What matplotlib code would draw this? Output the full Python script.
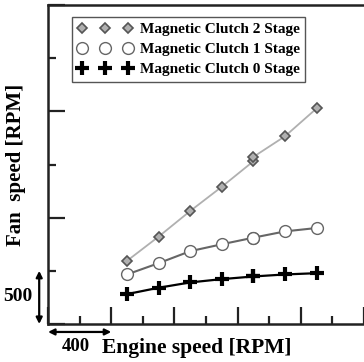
import matplotlib
matplotlib.use("Agg")
import matplotlib.pyplot as plt
from matplotlib.ticker import MultipleLocator

# engine speed [RPM] (axis has no tick labels, scale given by the 400 / 500 arrows)
engine_speed = [500, 700, 900, 1100, 1300, 1300, 1500, 1700]

# fan speed [RPM] for each magnetic clutch stage
fan_stage2 = [594, 822, 1063, 1291, 1531, 1572, 1766, 2028]
fan_stage1 = [466, 572, 685, 750, 812, 812, 871, 903]
fan_stage0 = [281, 341, 391, 422, 447, 447, 466, 478]

labels = ["Magnetic Clutch 2 Stage", "Magnetic Clutch 1 Stage", "Magnetic Clutch 0 Stage"]

plt.rcParams['font.family'] = ['Liberation Serif', 'DejaVu Serif']
plt.rcParams['font.weight'] = 'bold'

fig = plt.figure(figsize=(3.64, 3.62), dpi=100)
ax = fig.add_axes([0.132, 0.105, 0.868, 0.881])

ax.plot(engine_speed, fan_stage2, color='#b0b0b0', lw=1.3, marker='D', ms=5.5,
        mfc='#b0b0b0', mec='#555555', mew=1.2, label=labels[0])
ax.plot(engine_speed, fan_stage1, color='#666666', lw=1.5, marker='o', ms=8.5,
        mfc='white', mec='#666666', mew=1.0, label=labels[1])
ax.plot(engine_speed, fan_stage0, color='black', lw=1.6, marker='+', ms=10,
        mec='black', mew=3.0, label=labels[2])

ax.set_xlim(0, 2000)
ax.set_ylim(0, 3000)
ax.xaxis.set_major_locator(MultipleLocator(400))
ax.xaxis.set_minor_locator(MultipleLocator(200))
ax.yaxis.set_major_locator(MultipleLocator(1000))
ax.yaxis.set_minor_locator(MultipleLocator(500))
ax.tick_params(which='both', direction='in', labelbottom=False, labelleft=False,
               top=False, right=False, width=1.6, color='#222222')
ax.tick_params(which='major', length=12)
ax.tick_params(which='minor', length=6)
for s in ['left', 'bottom', 'top']:
    ax.spines[s].set_linewidth(1.8)
    ax.spines[s].set_color('#222222')
ax.spines['right'].set_visible(False)

ax.text(-0.1, 0.5, "Fan  speed [RPM]", transform=ax.transAxes, fontsize=15,
        fontweight='bold', rotation=90, ha='center', va='center')
ax.text(0.47, -0.075, "Engine speed [RPM]", transform=ax.transAxes, fontsize=15.5,
        fontweight='bold', ha='center', va='center')

# scale arrows
arrow = dict(arrowstyle='<|-|>', color='black', lw=1.6, mutation_scale=9,
             shrinkA=0, shrinkB=0)
ax.annotate("", xy=(0, -0.025), xytext=(400, -0.025),
            xycoords=ax.get_xaxis_transform(), arrowprops=arrow, annotation_clip=False)
ax.annotate("", xy=(-0.028, 0), xytext=(-0.028, 500),
            xycoords=ax.get_yaxis_transform(), arrowprops=arrow, annotation_clip=False)
ax.text(-0.095, 0.085, "500", transform=ax.transAxes, fontsize=14, fontweight='bold',
        ha='center', va='center')
ax.text(0.087, -0.072, "400", transform=ax.transAxes, fontsize=13.5, fontweight='bold',
        ha='center', va='center')

leg = ax.legend(loc='upper left', bbox_to_anchor=(0.075, 0.962), numpoints=3,
                fontsize=11, frameon=True, fancybox=False, framealpha=1,
                edgecolor='#555555', handlelength=3.6, handletextpad=0.5,
                borderpad=0.35, labelspacing=0.42, borderaxespad=0)
leg.get_frame().set_linewidth(1.0)
for h in leg.get_lines():
    h.set_linestyle('none')

fig.savefig("out.png", dpi=100)
